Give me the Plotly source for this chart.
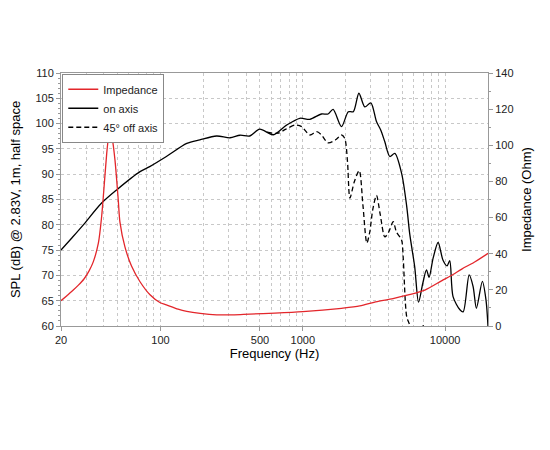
import plotly.graph_objects as go

# impedance curve (Ohm)
imp_freq = [20, 22, 24.4, 26.5, 29, 31.5, 33.7, 36.6, 38.6, 39.6, 41.9, 43.2, 44.3, 45.8,
            47.9, 50.5, 51.9, 56.2, 62.7, 71.8, 84.4, 99, 110, 133, 153, 190, 248, 330,
            424, 636, 1000, 1870, 2514, 3250, 4300, 5500, 7200, 9430, 11360, 13080,
            16000, 20000]
imp_ohm = [14, 16.8, 19.9, 22.6, 26, 30.5, 35.5, 45.8, 60.6, 71, 95.5, 105, 109.4, 104,
           91.8, 69.7, 57.5, 43.9, 33.0, 24.5, 17.3, 13, 11.7, 9.3, 8.1, 7, 6.2, 6.2,
           6.6, 7.1, 7.9, 9.8, 11.1, 13.4, 15.2, 17.2, 19.9, 25, 28.5, 31.5, 35.3, 40.2]

# on axis SPL (dB)
on_freq = [20, 24, 28.7, 38.6, 49.2, 71.8, 84, 110, 153, 189, 248, 308, 362, 424, 498,
           620, 768, 952, 1120, 1352, 1504, 1632, 1870, 2088, 2264, 2478, 2726, 3004,
           3292, 3532, 3768, 4086, 4430, 4940, 5372, 5632, 6110, 6500, 6960, 7392,
           7712, 8230, 8920, 9660, 10312, 10770, 11360, 12700, 13390, 14740, 15720,
           16580, 18260, 19350, 20000]
on_db = [75, 77.5, 80, 84.3, 86.9, 90.5, 91.5, 93.5, 96.1, 96.8, 97.55, 97.2, 97.7,
         97.55, 98.9, 97.8, 99.7, 101.05, 100.85, 101.9, 101.9, 102.8, 99.4, 102.35,
         102.35, 106.0, 103.3, 104.1, 100.4, 98.7, 96.4, 93.5, 94.1, 90.2, 83.6, 78.3,
         71.7, 64.7, 68.4, 71.1, 69.6, 73.4, 76.5, 73.0, 71.9, 72.9, 65.8, 63.2, 62.8,
         70.1, 67.8, 63.5, 68.8, 65.2, 59.9]

# 45 deg off axis SPL (dB)
off_freq = [560, 668, 760, 880, 981, 1120, 1252, 1350, 1504, 1700, 1870, 1970, 2060,
            2142, 2300, 2490, 2644, 2818, 2950, 3100, 3292, 3500, 3768, 4000, 4316,
            4544, 4940, 5068, 5372, 5632, 5900, 6500, 6960, 7300]
off_db = [98.3, 98.1, 98.9, 99.7, 99.4, 97.75, 98.4, 97.8, 96.2, 96.8, 97.75, 97.1,
          92.5, 85.3, 88.5, 90.7, 83.9, 76.4, 78.5, 83, 85.8, 82, 77.6, 78.5, 80.6,
          78.6, 77.0, 73.7, 61.8, 60.2, 56, 55, 60.3, 55]

label_freqs = [20, 100, 500, 1000, 10000]
grid_freqs = [m * 10 ** e for e in range(1, 5) for m in range(1, 10)]
grid_freqs = [f for f in grid_freqs if 20 <= f <= 20000]

fig = go.Figure()
fig.add_trace(go.Scatter(x=imp_freq, y=imp_ohm, name="Impedance", yaxis="y2",
                         mode="lines", line=dict(color="#e3262b", width=1.3, shape="spline", smoothing=0.8)))
fig.add_trace(go.Scatter(x=on_freq, y=on_db, name="on axis",
                         mode="lines", line=dict(color="black", width=1.3, shape="spline", smoothing=0.8)))
fig.add_trace(go.Scatter(x=off_freq, y=off_db, name="45° off axis",
                         mode="lines", line=dict(color="black", width=1.3, dash="5px,3px", shape="spline", smoothing=0.8)))

grid = dict(gridcolor="#c8c8c8", griddash="dot", gridwidth=1)
fig.update_layout(
    width=550, height=450,
    margin=dict(l=53, r=70, t=65, b=132),
    paper_bgcolor="white", plot_bgcolor="white",
    font=dict(family="Liberation Sans, Arial, sans-serif", size=11, color="#222"),
    showlegend=True,
    legend=dict(x=0.003, y=0.997, xanchor="left", yanchor="top", bgcolor="white",
                bordercolor="#888", borderwidth=1, font=dict(size=11),
                tracegroupgap=0, itemwidth=30),
    xaxis=dict(type="log", range=[1.30103, 4.30103], tickvals=label_freqs,
               ticktext=[str(f) for f in label_freqs], ticks="outside", ticklen=4,
               tickcolor="#999", showline=True, linecolor="#999", mirror=True,
               showgrid=False, zeroline=False,
               minor=dict(tickvals=grid_freqs, showgrid=True, ticks="",
                          gridcolor="#c8c8c8", griddash="dot"),
               title=dict(text="Frequency (Hz)", font=dict(size=13, color="black"), standoff=2)),
    yaxis=dict(range=[60, 110], dtick=5, ticks="outside", ticklen=4, tickcolor="#999",
               showline=True, linecolor="#999", zeroline=False, showgrid=True, **grid,
               automargin=False,
               minor=dict(dtick=1, ticks="outside", ticklen=2, tickcolor="#999", showgrid=False),
               title=dict(text="SPL (dB) @ 2.83V, 1m, half space", font=dict(size=13, color="black"), standoff=21)),
    yaxis2=dict(range=[0, 140], dtick=20, overlaying="y", side="right", ticks="outside",
                ticklen=4, tickcolor="#999", showline=True, linecolor="#999",
                zeroline=False, showgrid=False, automargin=False,
                minor=dict(dtick=10, ticks="outside", ticklen=2, tickcolor="#999"),
                title=dict(text="Impedance (Ohm)", font=dict(size=13, color="black"), standoff=9)),
)

fig.write_html("out.html")
